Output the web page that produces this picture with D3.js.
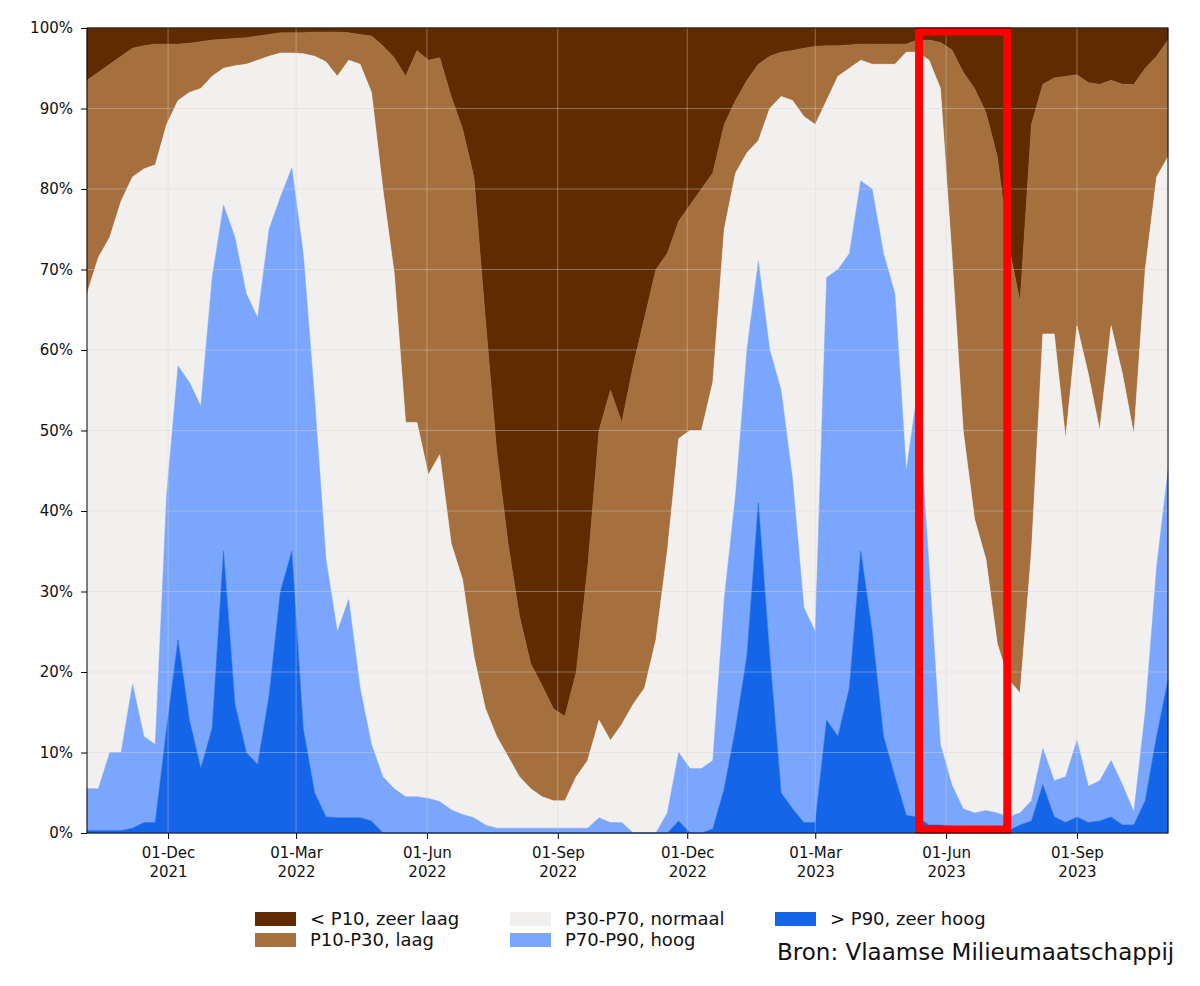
<!DOCTYPE html>
<html>
<head>
<meta charset="utf-8">
<script src="https://cdn.jsdelivr.net/npm/d3@7"></script>
<style>
  body { margin: 0; background: #fff; }
  text { font-family: "DejaVu Sans", sans-serif; }
</style>
</head>
<body>
<div id="app"></div>
<script>
// sample every 8 days, starting 5 Oct 2021 (96 samples)
const startDate = "2021-10-05";
const stepDays = 8;

// share of stations (%) above each threshold
const aboveP90 = [
  0.3, 0.3, 0.3, 0.3, 0.6, 1.3, 1.3, 13, 24, 14, 8, 13, 35, 16, 10, 8.5,
  17, 30, 35, 13, 5, 2, 1.9, 1.9, 1.9, 1.5, 0, 0, 0, 0, 0, 0,
  0, 0, 0, 0, 0, 0, 0, 0, 0, 0, 0, 0, 0, 0, 0, 0,
  0, 0, 0, 0, 1.5, 0, 0, 0.5, 5.5, 13, 22, 41, 22, 5,
  3, 1.3, 1.3, 14, 12, 18, 35, 25, 12, 7, 2.2, 2, 1, 1, 0.8, 0.5,
  0.3, 0.3, 0.3, 0.3, 1, 1.5, 6, 2, 1.3, 2, 1.3, 1.5, 2, 1, 1, 4,
  12, 19
];
const aboveP70 = [
  5.5, 5.5, 10, 10, 18.5, 12, 11, 42, 58, 56, 53, 69, 78, 74, 67, 64,
  75, 79, 82.6, 72, 54, 34, 25, 29, 18, 11, 7, 5.5, 4.5, 4.5, 4.3, 3.9,
  2.9, 2.3, 1.9, 1, 0.6, 0.6, 0.6, 0.6, 0.6, 0.6, 0.6, 0.6, 0.6, 1.9, 1.3, 1.3,
  0, 0, 0, 2.5, 10, 8, 8, 9, 29, 42, 60, 71, 60, 55,
  44, 28, 25, 69, 70, 72, 81, 80, 72, 67, 45, 55, 33, 11, 6, 3,
  2.5, 2.8, 2.5, 2, 2.5, 4, 10.5, 6.5, 7, 11.5, 5.8, 6.5, 9, 6, 2.6, 15,
  33, 45
];
const aboveP30 = [
  67, 71.5, 74, 78.5, 81.5, 82.5, 83, 88, 91, 92, 92.5, 94, 95, 95.3, 95.5, 96,
  96.5, 96.9, 96.9, 96.8, 96.5, 95.8, 94, 96, 95.5, 92, 80, 69.5, 51, 51, 44.5, 47,
  36, 31.5, 22, 15.5, 12, 9.5, 7, 5.5, 4.5, 4, 4, 7, 9, 14, 11.5, 13.5,
  16, 18, 24, 35, 49, 50, 50, 56, 75, 82, 84.5, 86, 90, 91.5,
  91, 89, 88, 91, 94, 95, 96, 95.5, 95.5, 95.5, 97, 97, 96, 92.5, 72, 50,
  39, 34, 23.5, 19, 17.4, 35, 62, 62, 49, 63, 57, 50, 63, 57, 49.5, 70,
  81.5, 84
];
const aboveP10 = [
  93.5, 94.5, 95.5, 96.5, 97.5, 97.8, 98, 98, 98, 98.1, 98.3, 98.5, 98.6, 98.7, 98.8, 99,
  99.2, 99.4, 99.4, 99.4, 99.5, 99.5, 99.5, 99.4, 99.2, 99, 97.8, 96.3, 94, 97.2, 96, 96.3,
  91.5, 87.5, 81.5, 64, 47.5, 36, 27, 21, 18.3, 15.4, 14.5, 20, 33, 50, 55, 51,
  58, 64, 70, 72, 76, 78, 80, 82, 88, 91, 93.5, 95.5, 96.5, 97,
  97.2, 97.5, 97.7, 97.8, 97.8, 97.9, 98, 98, 98, 98, 98, 98.5, 98.5, 98.2, 97.3, 94.5,
  92.5, 89.5, 84, 73, 66, 88, 93, 93.8, 94, 94.2, 93.2, 93, 93.5, 93, 93, 95,
  96.5, 98.5
];

const classNames = ["< P10, zeer laag", "P10-P30, laag", "P30-P70, normaal", "P70-P90, hoog", "> P90, zeer hoog"];
const classColors = ["#602b00", "#a5703e", "#f2f0ef", "#7aa6fd", "#1565e9"];

const tickDates = ["2021-12-01", "2022-03-01", "2022-06-01", "2022-09-01",
                   "2022-12-01", "2023-03-01", "2023-06-01", "2023-09-01"];
const yTicks = [0, 10, 20, 30, 40, 50, 60, 70, 80, 90, 100];

// highlighted period
const highlight = ["2023-05-13", "2023-07-14"];

const source = "Bron: Vlaamse Milieumaatschappij";

const parse = d3.utcParse("%Y-%m-%d");
const t0 = parse(startDate);
const dates = aboveP90.map((_, i) => d3.utcDay.offset(t0, i * stepDays));

const rows = dates.map((date, i) => ({
    date,
    b: [100, aboveP10[i], aboveP30[i], aboveP70[i], aboveP90[i], 0]
}));

const margin = { top: 28, right: 32, bottom: 153, left: 87 };
const width = 1200 - margin.left - margin.right;
const height = 986 - margin.top - margin.bottom;

const svg = d3.select("#app")
    .append("svg")
    .attr("width", 1200)
    .attr("height", 986);

const g = svg.append("g")
    .attr("transform", `translate(${margin.left},${margin.top})`);

const x = d3.scaleUtc()
    .domain(d3.extent(dates))
    .range([0, width]);

const y = d3.scaleLinear()
    .domain([0, 100])
    .range([height, 0]);

// bands, top class first
classNames.forEach((name, k) => {
    const area = d3.area()
        .x(d => x(d.date))
        .y0(d => y(d.b[k + 1]))
        .y1(d => y(d.b[k]));
    g.append("path")
        .datum(rows)
        .attr("fill", classColors[k])
        .attr("stroke", classColors[k])
        .attr("stroke-width", 0.5)
        .attr("d", area);
});

// grid
const grid = g.append("g")
    .attr("stroke", "#d8d8d8")
    .attr("stroke-opacity", 0.4)
    .attr("stroke-width", 1);
grid.selectAll(".gy")
    .data(yTicks)
    .enter().append("line")
    .attr("x1", 0).attr("x2", width)
    .attr("y1", d => y(d)).attr("y2", d => y(d));
grid.selectAll(".gx")
    .data(tickDates.map(parse))
    .enter().append("line")
    .attr("y1", 0).attr("y2", height)
    .attr("x1", d => x(d)).attr("x2", d => x(d));

// highlight box
const sw = 8;
g.append("rect")
    .attr("x", x(parse(highlight[0])))
    .attr("y", y(100) + sw / 2 - 0.5)
    .attr("width", x(parse(highlight[1])) - x(parse(highlight[0])))
    .attr("height", y(0) - y(100) - sw + 1)
    .attr("fill", "none")
    .attr("stroke", "#ff0000")
    .attr("stroke-width", sw);

// axes
const yAxis = g.append("g")
    .call(d3.axisLeft(y).tickValues(yTicks).tickFormat(d => d + "%").tickSize(6).tickPadding(8));
const xAxis = g.append("g")
    .attr("transform", `translate(0,${height})`)
    .call(d3.axisBottom(x).tickValues(tickDates.map(parse)).tickSize(6).tickFormat(""));

[yAxis, xAxis].forEach(a => {
    a.select(".domain").remove();
    a.selectAll("line").attr("stroke", "#000");
    a.selectAll("text").attr("font-size", 15).attr("fill", "#111");
});

const fmtDay = d3.utcFormat("%d-%b");
const fmtYear = d3.utcFormat("%Y");
const xl = xAxis.selectAll(".tick").append("text")
    .attr("fill", "#111")
    .attr("font-size", 15)
    .attr("text-anchor", "middle");
xl.append("tspan").attr("x", 0).attr("y", 25).text(d => fmtDay(d));
xl.append("tspan").attr("x", 0).attr("y", 44).text(d => fmtYear(d));

// frame
g.append("rect")
    .attr("width", width)
    .attr("height", height)
    .attr("fill", "none")
    .attr("stroke", "#000")
    .attr("stroke-width", 1);

// legend
const legendCols = [255, 510, 775];
const legend = svg.append("g");
classNames.forEach((name, k) => {
    const col = Math.floor(k / 2), row = k % 2;
    const lx = legendCols[col], ly = 912 + row * 21;
    legend.append("rect")
        .attr("x", lx).attr("y", ly)
        .attr("width", 41).attr("height", 14)
        .attr("fill", classColors[k]);
    legend.append("text")
        .attr("x", lx + 55).attr("y", ly + 13)
        .attr("font-size", 18)
        .attr("fill", "#111")
        .text(name);
});

svg.append("text")
    .attr("x", 777).attr("y", 960)
    .attr("font-size", 23)
    .attr("fill", "#111")
    .text(source);
</script>
</body>
</html>
